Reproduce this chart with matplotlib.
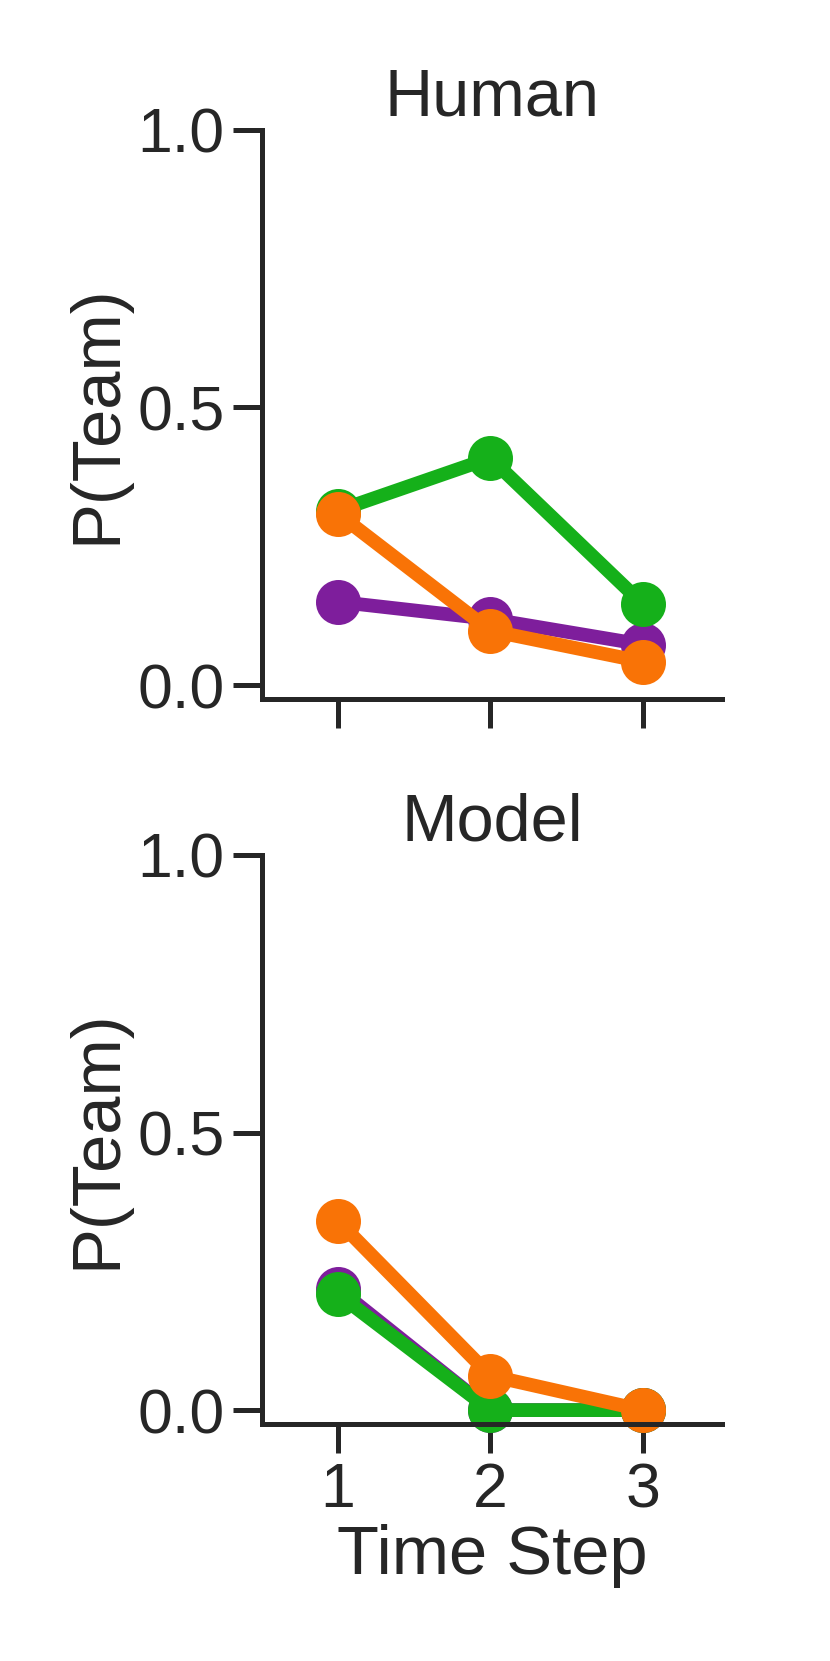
import numpy as np
import matplotlib
matplotlib.use("Agg")
import matplotlib.pyplot as plt

# values
time_steps = [1, 2, 3]
human_purple = [0.150, 0.119, 0.073]
human_green = [0.314, 0.409, 0.146]
human_orange = [0.309, 0.098, 0.042]
model_purple = [0.219, 0.0, 0.0]
model_green = [0.209, 0.0, 0.0]
model_orange = [0.341, 0.062, 0.0]

colors = ["#7e1e9c", "#15b01a", "#f97306"]  # xkcd purple, green, orange
ink = "#262626"

plt.rcParams['font.family'] = ['Liberation Sans', 'DejaVu Sans']
plt.rcParams['text.color'] = ink
plt.rcParams['axes.labelcolor'] = ink
plt.rcParams['xtick.color'] = ink
plt.rcParams['ytick.color'] = ink

fig = plt.figure(figsize=(830 / 300, 1661 / 300), dpi=300)
ax_top = fig.add_axes([0.3152, 0.5792, 0.5547, 0.3426])
ax_bot = fig.add_axes([0.3152, 0.1427, 0.5547, 0.3426])

panels = [
    (ax_top, "Human", [human_purple, human_green, human_orange]),
    (ax_bot, "Model", [model_purple, model_green, model_orange]),
]

for ax, title, series in panels:
    for vals, c in zip(series, colors):
        ax.plot(time_steps, vals, color=c, lw=3.3, marker="o", ms=9.8,
                solid_capstyle="round", clip_on=False)
    ax.set_xlim(0.5, 3.52)
    ax.set_ylim(-0.025, 1.0)
    ax.set_yticks([0.0, 0.5, 1.0])
    ax.set_xticks(time_steps)
    ax.set_title(title, fontsize=16, pad=2.4)
    ax.set_ylabel("P(Team)", fontsize=16.5, labelpad=1.8)
    for side in ["top", "right"]:
        ax.spines[side].set_visible(False)
    for side in ["left", "bottom"]:
        ax.spines[side].set_linewidth(1.2)
        ax.spines[side].set_color(ink)
    ax.tick_params(axis="both", direction="out", length=6.9, width=1.2,
                   labelsize=15, pad=2.0)

ax_top.set_xticklabels([])
ax_bot.set_xticklabels([str(t) for t in time_steps])
ax_bot.set_xlabel("Time Step", fontsize=16.5, labelpad=1)

fig.savefig("out.png", dpi=300)
